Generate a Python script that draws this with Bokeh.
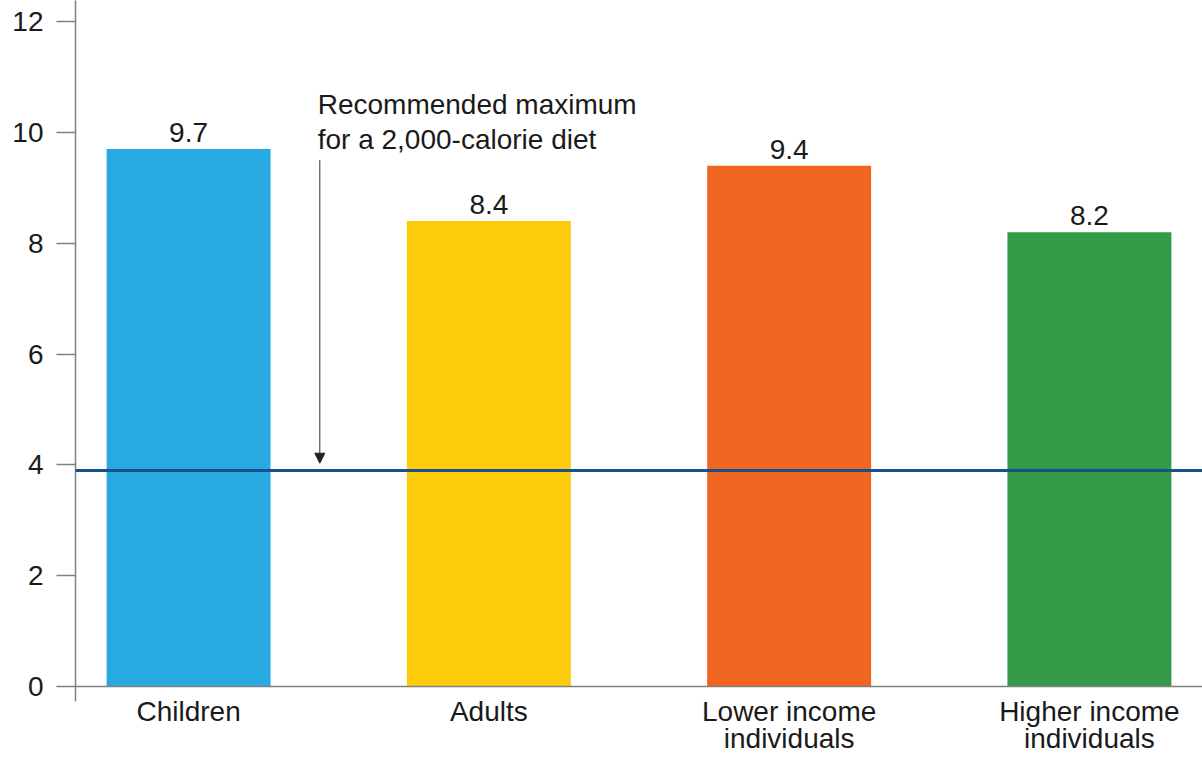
from bokeh.plotting import figure
from bokeh.models import (FactorRange, Range1d, Span, Arrow, NormalHead, Label, LabelSet,
                          FixedTicker, ColumnDataSource)
from bokeh.core.properties import value
from bokeh.embed import file_html
from bokeh.resources import INLINE

categories = ["Children", "Adults", "Lower income\nindividuals", "Higher income\nindividuals"]
values = [9.7, 8.4, 9.4, 8.2]
value_labels = ["9.7", "8.4", "9.4", "8.2"]
colors = ["#27a9e1", "#fccb0a", "#f16522", "#339a48"]
recommended_max = 3.9
y_ticks = [0, 2, 4, 6, 8, 10, 12]
annotation_lines = ["Recommended maximum", "for a 2,000-calorie diet"]

FONT = "Liberation Sans"
FS = "28px"

p = figure(width=1202, height=757, output_backend="svg", toolbar_location=None,
           x_range=FactorRange(factors=categories, range_padding=-0.0617, range_padding_units="percent"),
           y_range=Range1d(-0.27, 12.38),
           min_border_left=75, min_border_right=0, min_border_top=0, min_border_bottom=40)
p.outline_line_color = None
p.grid.visible = False
p.background_fill_color = "white"
p.border_fill_color = "white"

src = ColumnDataSource(dict(cat=categories, val=values, lab=value_labels, col=colors))
p.vbar(x="cat", top="val", bottom=0, width=0.546, fill_color="col", line_color=None, source=src)
p.add_layout(LabelSet(x="cat", y="val", text="lab", source=src, text_align="center",
                      text_baseline="alphabetic", y_offset=7, text_font=value(FONT),
                      text_font_size=value(FS), text_color="#1a1a1a"))

# baseline
p.add_layout(Span(location=0, dimension="width", line_color="#808080", line_width=1.5))
# recommended maximum line
p.add_layout(Span(location=recommended_max, dimension="width", line_color="#17508d", line_width=3))

# arrow + annotation
p.add_layout(Arrow(x_start=0.937, y_start=9.5, x_end=0.937, y_end=recommended_max + 0.13,
                   line_color="#333333", line_width=1,
                   end=NormalHead(size=10, fill_color="#222222", line_color="#222222")))
for txt, yy in zip(annotation_lines, [10.50, 9.88]):
    p.add_layout(Label(x=0.93, y=yy, text=txt, text_font=FONT, text_font_size=FS,
                       text_color="#1a1a1a", text_baseline="alphabetic", text_align="left"))

# y axis
ya = p.yaxis[0]
ya.ticker = FixedTicker(ticks=y_ticks)
ya.minor_tick_line_color = None
ya.major_tick_in = 0
ya.major_tick_out = 19
ya.major_tick_line_color = "#808080"
ya.major_tick_line_width = 1.5
ya.axis_line_color = "#808080"
ya.axis_line_width = 1.5
ya.major_label_standoff = 13
ya.major_label_text_font = FONT
ya.major_label_text_font_size = FS
ya.major_label_text_color = "#1a1a1a"

# x axis
xa = p.xaxis[0]
xa.axis_line_color = None
xa.major_tick_line_color = None
xa.minor_tick_line_color = None
xa.major_tick_in = 0
xa.major_tick_out = 0
xa.major_label_standoff = -6
xa.major_label_text_font = FONT
xa.major_label_text_font_size = FS
xa.major_label_text_color = "#1a1a1a"
xa.major_label_text_line_height = 0.9

open("out.html", "w").write(file_html(p, INLINE))
